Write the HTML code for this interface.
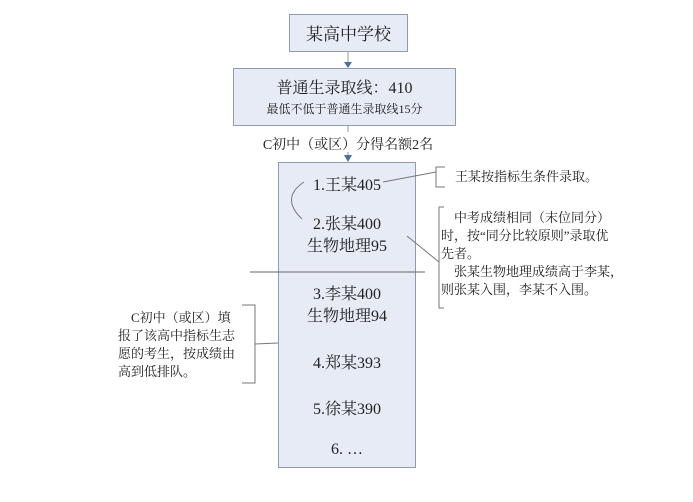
<!DOCTYPE html>
<html><head><meta charset="utf-8"><style>
body{margin:0;width:693px;height:502px;background:#fff;position:relative;overflow:hidden;font-family:"Liberation Serif","Noto Serif CJK SC",serif;color:#222}
.a{position:absolute;white-space:nowrap}
.box{position:absolute;background:#e6ebf5;border:1px solid #8e9bb0;box-sizing:border-box}
</style></head><body>
<svg class="a" style="left:0;top:0" width="693" height="502">
<line x1="348" y1="51" x2="348" y2="63" stroke="#999"/>
<polygon points="344,62 352,62 348,68" fill="#4a6fa5"/>
<line x1="348" y1="126" x2="348" y2="132" stroke="#999"/>
<line x1="348" y1="152" x2="348" y2="156" stroke="#999"/>
<polygon points="344,155 352,155 348,162" fill="#4a6fa5"/>
</svg>
<div class="box" style="left:289px;top:14px;width:119px;height:38px"></div>
<div class="a" style="left:289px;top:20px;width:119px;text-align:center;font-size:17px">某高中学校</div>
<div class="box" style="left:233px;top:68px;width:223px;height:58px"></div>
<div class="a" style="left:233px;top:75px;width:223px;text-align:center;font-size:16px">普通生录取线：410</div>
<div class="a" style="left:233px;top:100px;width:223px;text-align:center;font-size:12px">最低不低于普通生录取线15分</div>
<div class="a" style="left:233px;top:134px;width:230px;text-align:center;font-size:14px">C初中（或区）分得名额2名</div>
<div class="box" style="left:278px;top:162px;width:138px;height:306px"></div>
<svg class="a" style="left:0;top:0" width="693" height="502">
<line x1="250" y1="272" x2="425" y2="272" stroke="#666"/>
<path d="M304,182 Q280,198 302,219" fill="none" stroke="#777"/>
<line x1="383" y1="182" x2="436" y2="172" stroke="#777"/>
<path d="M445,167 L436,167 L436,187 L445,187" fill="none" stroke="#777"/>
<line x1="407" y1="236" x2="439" y2="262" stroke="#777"/>
<path d="M444,207 L439,207 L439,308 L444,308" fill="none" stroke="#777"/>
<path d="M242,305 L255,305 L255,383 L242,383" fill="none" stroke="#777"/>
<line x1="255" y1="344" x2="278" y2="343" stroke="#777"/>
</svg>
<div class="a" style="left:278px;top:172px;width:138px;text-align:center;font-size:16px">1.王某405</div>
<div class="a" style="left:278px;top:214px;width:138px;text-align:center;font-size:16px;line-height:22px">2.张某400<br>生物地理95</div>
<div class="a" style="left:278px;top:284px;width:138px;text-align:center;font-size:16px;line-height:22px">3.李某400<br>生物地理94</div>
<div class="a" style="left:278px;top:350px;width:138px;text-align:center;font-size:16px">4.郑某393</div>
<div class="a" style="left:278px;top:396px;width:138px;text-align:center;font-size:16px">5.徐某390</div>
<div class="a" style="left:278px;top:441px;width:138px;text-align:center;font-size:16px">6. …</div>
<div class="a" style="left:455px;top:166px;font-size:13px">王某按指标生条件录取。</div>
<div class="a" style="left:441px;top:209px;font-size:13px;line-height:18px">　中考成绩相同（末位同分）<br>时，按“同分比较原则”录取优<br>先者。<br>　张某生物地理成绩高于李某，<br>则张某入围，李某不入围。</div>
<div class="a" style="left:118px;top:309px;font-size:13px;line-height:18px">　C初中（或区）填<br>报了该高中指标生志<br>愿的考生，按成绩由<br>高到低排队。</div>
</body></html>
